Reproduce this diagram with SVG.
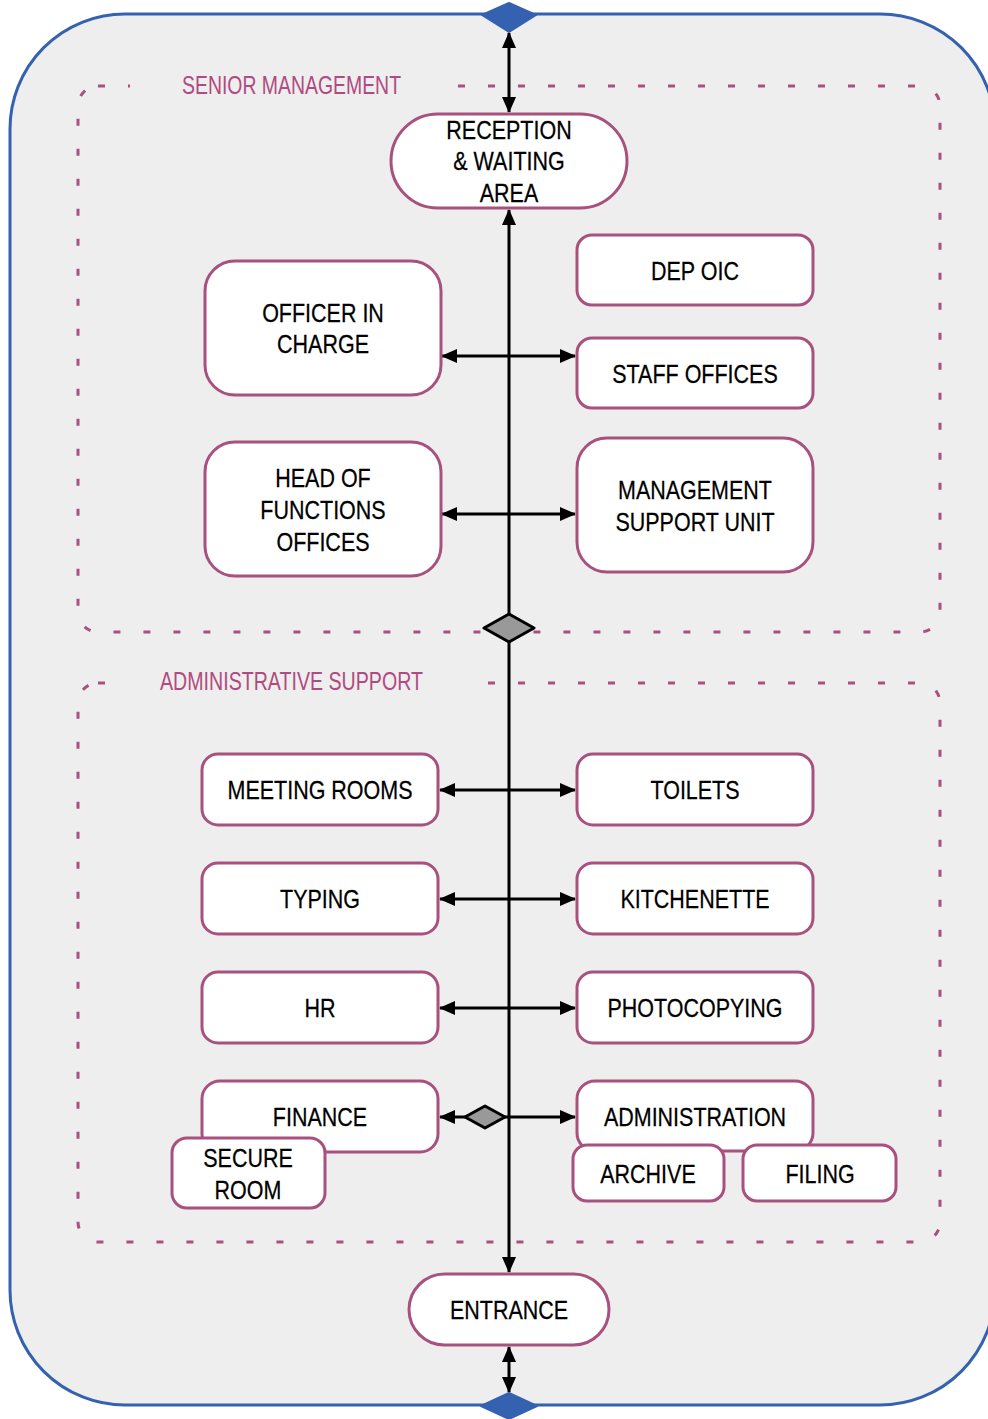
<svg xmlns="http://www.w3.org/2000/svg" width="988" height="1419" viewBox="0 0 988 1419">
<defs>
<style>
.node{fill:#ffffff;stroke:#a8517f;stroke-width:3}
.t{font-family:"Liberation Sans",Arial,sans-serif;font-size:25px;fill:#000;text-anchor:middle;stroke:#000;stroke-width:0.25}
.lbl{font-family:"Liberation Sans",Arial,sans-serif;font-size:25px;fill:#b04a80}
.zone{fill:none;stroke:#a8517f;stroke-width:3;stroke-dasharray:7 23}
.con{stroke:#000;stroke-width:3;fill:none}
</style>
<marker id="ah" viewBox="0 0 16 14" refX="15" refY="7" markerWidth="16" markerHeight="14" markerUnits="userSpaceOnUse" orient="auto-start-reverse">
<path d="M0,0 L16,7 L0,14 z" fill="#000"/>
</marker>
</defs>
<rect x="0" y="0" width="988" height="1419" fill="#ffffff"/>
<g id="container">
<rect x="10" y="14" width="985" height="1391" rx="115" ry="115" fill="#eeeeee" stroke="#3461b0" stroke-width="3"/>
</g>
<g id="senior-management">
<rect class="zone" x="78" y="86" width="862" height="546" rx="20" ry="20"/>
<rect x="130" y="74" width="322" height="24" fill="#eeeeee"/>
<text class="lbl" x="182" y="94" textLength="219" lengthAdjust="spacingAndGlyphs">SENIOR MANAGEMENT</text>
</g>
<g id="administrative-support">
<rect class="zone" x="78" y="683" width="862" height="559" rx="20" ry="20"/>
<rect x="125" y="670" width="345" height="26" fill="#eeeeee"/>
<text class="lbl" x="160" y="690" textLength="263" lengthAdjust="spacingAndGlyphs">ADMINISTRATIVE SUPPORT</text>
</g>
<g id="connectors">
<line class="con" x1="509" y1="33" x2="509" y2="112" marker-start="url(#ah)" marker-end="url(#ah)"/>
<line class="con" x1="509" y1="210" x2="509" y2="1272" marker-start="url(#ah)" marker-end="url(#ah)"/>
<line class="con" x1="509" y1="1347" x2="509" y2="1392" marker-start="url(#ah)" marker-end="url(#ah)"/>
<line class="con" x1="442" y1="356" x2="575" y2="356" marker-start="url(#ah)" marker-end="url(#ah)"/>
<line class="con" x1="442" y1="514" x2="575" y2="514" marker-start="url(#ah)" marker-end="url(#ah)"/>
<line class="con" x1="440" y1="790" x2="575" y2="790" marker-start="url(#ah)" marker-end="url(#ah)"/>
<line class="con" x1="440" y1="899" x2="575" y2="899" marker-start="url(#ah)" marker-end="url(#ah)"/>
<line class="con" x1="440" y1="1008" x2="575" y2="1008" marker-start="url(#ah)" marker-end="url(#ah)"/>
<line class="con" x1="440" y1="1117" x2="575" y2="1117" marker-start="url(#ah)" marker-end="url(#ah)"/>
<polygon points="485,1106 505,1117 485,1128 465,1117" fill="#999999" stroke="#000" stroke-width="3" stroke-linejoin="round"/>
<polygon points="509,614 534,628 509,642 484,628" fill="#999999" stroke="#000" stroke-width="3" stroke-linejoin="round"/>
<polygon points="509,3 536,15 509,32 482,15" fill="#3461b0" stroke="#3461b0" stroke-width="2" stroke-linejoin="round"/>
<polygon points="509,1393 537,1406 509,1419 481,1406" fill="#3461b0" stroke="#3461b0" stroke-width="2" stroke-linejoin="round"/>
</g>
<g id="reception">
<rect class="node" x="391" y="114" width="236" height="94" rx="47" ry="47"/>
<text class="t" transform="translate(509,139) scale(0.86,1)">RECEPTION</text>
<text class="t" transform="translate(509,170) scale(0.86,1)">&amp; WAITING</text>
<text class="t" transform="translate(509,202) scale(0.86,1)">AREA</text>
</g>
<g id="dep-oic">
<rect class="node" x="577" y="235" width="236" height="70" rx="15" ry="15"/>
<text class="t" transform="translate(695,280) scale(0.86,1)">DEP OIC</text>
</g>
<g id="officer-in-charge">
<rect class="node" x="205" y="261" width="236" height="134" rx="30" ry="30"/>
<text class="t" transform="translate(323,322) scale(0.86,1)">OFFICER IN</text>
<text class="t" transform="translate(323,353) scale(0.86,1)">CHARGE</text>
</g>
<g id="staff-offices">
<rect class="node" x="577" y="338" width="236" height="70" rx="15" ry="15"/>
<text class="t" transform="translate(695,383) scale(0.86,1)">STAFF OFFICES</text>
</g>
<g id="head-of-functions">
<rect class="node" x="205" y="442" width="236" height="134" rx="30" ry="30"/>
<text class="t" transform="translate(323,487) scale(0.86,1)">HEAD OF</text>
<text class="t" transform="translate(323,519) scale(0.86,1)">FUNCTIONS</text>
<text class="t" transform="translate(323,551) scale(0.86,1)">OFFICES</text>
</g>
<g id="management-support-unit">
<rect class="node" x="577" y="438" width="236" height="134" rx="30" ry="30"/>
<text class="t" transform="translate(695,499) scale(0.86,1)">MANAGEMENT</text>
<text class="t" transform="translate(695,531) scale(0.86,1)">SUPPORT UNIT</text>
</g>
<g id="meeting-rooms">
<rect class="node" x="202" y="754" width="236" height="71" rx="16" ry="16"/>
<text class="t" transform="translate(320,799) scale(0.86,1)">MEETING ROOMS</text>
</g>
<g id="toilets">
<rect class="node" x="577" y="754" width="236" height="71" rx="16" ry="16"/>
<text class="t" transform="translate(695,799) scale(0.86,1)">TOILETS</text>
</g>
<g id="typing">
<rect class="node" x="202" y="863" width="236" height="71" rx="16" ry="16"/>
<text class="t" transform="translate(320,908) scale(0.86,1)">TYPING</text>
</g>
<g id="kitchenette">
<rect class="node" x="577" y="863" width="236" height="71" rx="16" ry="16"/>
<text class="t" transform="translate(695,908) scale(0.86,1)">KITCHENETTE</text>
</g>
<g id="hr">
<rect class="node" x="202" y="972" width="236" height="71" rx="16" ry="16"/>
<text class="t" transform="translate(320,1017) scale(0.86,1)">HR</text>
</g>
<g id="photocopying">
<rect class="node" x="577" y="972" width="236" height="71" rx="16" ry="16"/>
<text class="t" transform="translate(695,1017) scale(0.86,1)">PHOTOCOPYING</text>
</g>
<g id="finance">
<rect class="node" x="202" y="1081" width="236" height="71" rx="18" ry="18"/>
<text class="t" transform="translate(320,1126) scale(0.86,1)">FINANCE</text>
</g>
<g id="secure-room">
<rect class="node" x="172" y="1138" width="153" height="70" rx="15" ry="15"/>
<text class="t" transform="translate(248,1167) scale(0.86,1)">SECURE</text>
<text class="t" transform="translate(248,1199) scale(0.86,1)">ROOM</text>
</g>
<g id="administration">
<rect class="node" x="577" y="1081" width="236" height="70" rx="18" ry="18"/>
<text class="t" transform="translate(695,1126) scale(0.86,1)">ADMINISTRATION</text>
</g>
<g id="archive">
<rect class="node" x="573" y="1145" width="151" height="56" rx="14" ry="14"/>
<text class="t" transform="translate(648,1183) scale(0.86,1)">ARCHIVE</text>
</g>
<g id="filing">
<rect class="node" x="743" y="1145" width="153" height="56" rx="14" ry="14"/>
<text class="t" transform="translate(820,1183) scale(0.86,1)">FILING</text>
</g>
<g id="entrance">
<rect class="node" x="409" y="1274" width="200" height="71" rx="35.5" ry="35.5"/>
<text class="t" transform="translate(509,1319) scale(0.86,1)">ENTRANCE</text>
</g>
</svg>
